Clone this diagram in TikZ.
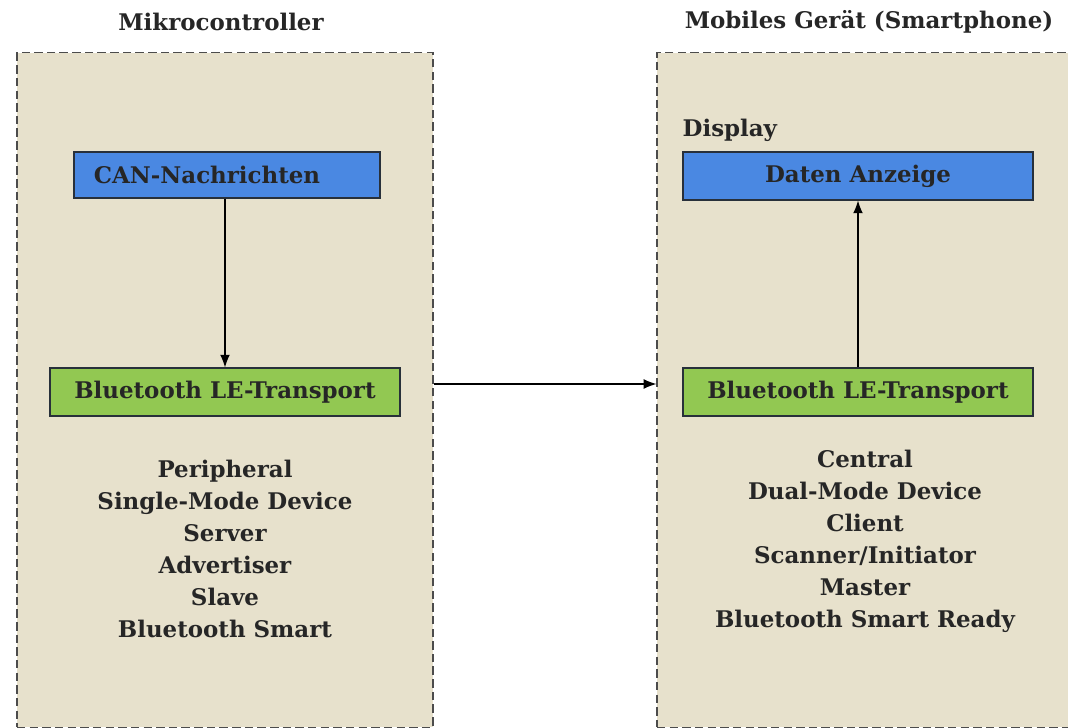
\documentclass[tikz,border=0pt]{standalone}
\usepackage{fontspec}
\setmainfont{DejaVu Serif}
\usepackage{tikz}
\usetikzlibrary{arrows,arrows.meta,shapes,positioning}

\definecolor{beige}{RGB}{231,225,204}
\definecolor{canblue}{RGB}{74,136,226}
\definecolor{blegreen}{RGB}{146,200,82}
\definecolor{edge}{RGB}{40,48,58}

\tikzset{
  device/.style={draw=black!70, dashed, dash pattern=on 6pt off 3pt, thick,
    fill=beige, minimum height=16.85cm},
  block/.style={draw=edge, thick, minimum width=8.75cm, minimum height=1.2cm,
    inner sep=0pt},
  txt/.style={font=\fontsize{16.3}{22.8}\selectfont\bfseries, text=black!85},
  flow/.style={-{Latex[length=9pt,width=7pt]}, line width=0.8pt},
}

\begin{document}
\begin{tikzpicture}[x=0.025cm, y=-0.025cm]

      % Definitions
      \useasboundingbox (0,0) rectangle (1068,728);

      % containers
      \node[device, minimum width=10.4cm] (mc) at (225,390) {};
      \node[device, minimum width=10.6cm] (phone) at (869,390) {};
      \node[txt] (mctitle) at (221,22) {Mikrocontroller};
      \node[txt] (phonetitle) at (869,22) {Mobiles Gerät (Smartphone)};

      % Mikrocontroller
      \node[block, fill=canblue, minimum width=7.65cm, minimum height=1.15cm,
        txt, text width=6.65cm, align=left] (can) at (227,175) {CAN-Nachrichten};
      \node[block, fill=blegreen, txt] (bleL) at (225,392) {Bluetooth LE-Transport};
      \node[txt, align=center] (rolesL) at (225,549)
        {Peripheral\\Single-Mode Device\\Server\\Advertiser\\Slave\\Bluetooth Smart};

      % Smartphone
      \node[block, fill=canblue, txt] (anz) at (858,176) {Daten Anzeige};
      \node[txt, anchor=south west, inner sep=0pt] (disp) at ([yshift=0.25cm]anz.north west)
        {Display};
      \node[block, fill=blegreen, txt] (bleR) at (858,392) {Bluetooth LE-Transport};
      \node[txt, align=center] (rolesR) at (865,541)
        {Central\\Dual-Mode Device\\Client\\Scanner/Initiator\\Master\\Bluetooth Smart Ready};

      % arrows
      \draw[flow] (bleL.north |- can.south) -- (bleL.north);
      \draw[flow] (bleR.north) -- (anz.south);
      \draw[flow] ([yshift=0.2cm]mc.east |- bleL.center)
        -- ([yshift=0.2cm]phone.west |- bleL.center);
\end{tikzpicture}
\end{document}
